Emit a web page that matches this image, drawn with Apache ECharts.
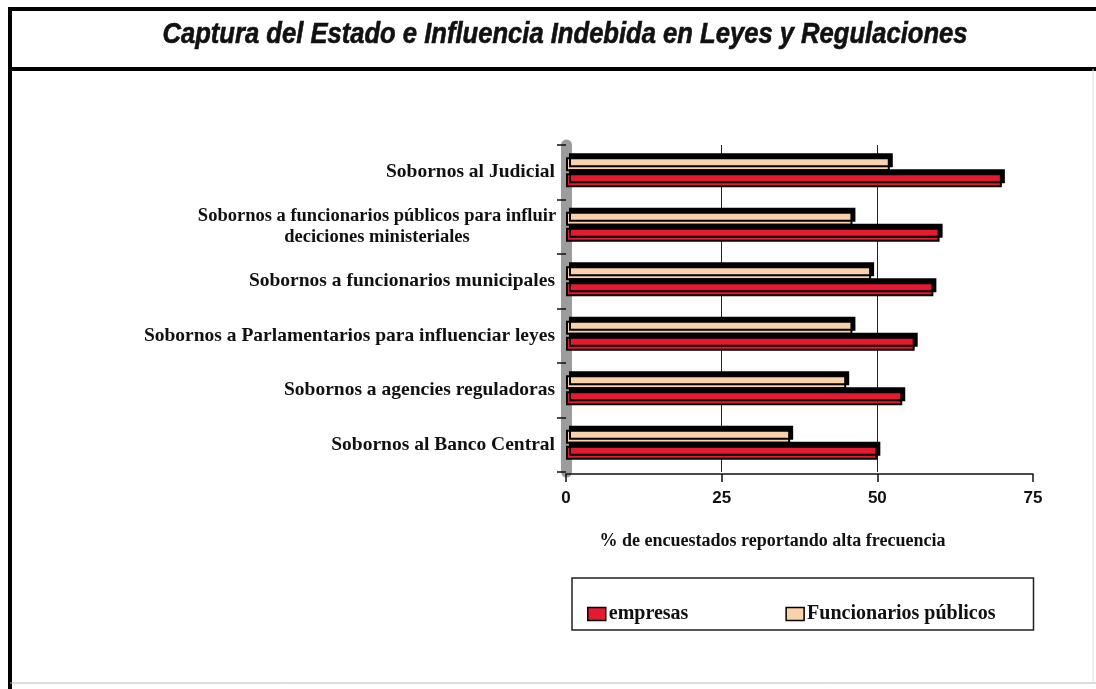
<!DOCTYPE html>
<html>
<head>
<meta charset="utf-8">
<script src="https://cdn.jsdelivr.net/npm/echarts@6/dist/echarts.min.js"></script>
<style>
    html, body { margin: 0; padding: 0; background: #fff; }
    #chart { width: 1096px; height: 689px; }
</style>
</head>
<body>
<div id="chart"></div>
<script>
    var categories = [
        'Sobornos al Judicial',
        'Sobornos a funcionarios públicos para influir\ndeciciones ministeriales',
        'Sobornos a funcionarios municipales',
        'Sobornos a Parlamentarios para influenciar leyes',
        'Sobornos a agencies reguladoras',
        'Sobornos al Banco Central'
    ];
    var empresas = [70, 60, 59, 56, 54, 50];
    var funcionarios = [52, 46, 49, 46, 45, 36];
    var xTicks = [0, 25, 50, 75];
    var titleText = 'Captura del Estado e Influencia Indebida en Leyes y Regulaciones';

    var RED = '#e51a30', TAN = '#f9d1aa';
    var serif = 'Liberation Serif';

    // condensed title: squeeze a normal sans to the width it has in the scan
    var titleFont = 'italic bold 29px "Liberation Sans"';
    var ctx = document.createElement('canvas').getContext('2d');
    ctx.font = titleFont;
    var titleScale = 805 / ctx.measureText(titleText).width;

    var barStyle = function (color) {
        return {
            color: color,
            borderColor: '#000',
            borderWidth: 2,
            shadowColor: '#000',
            shadowBlur: 0,
            shadowOffsetX: 3,
            shadowOffsetY: -4
        };
    };

    var option = {
        backgroundColor: '#fff',
        animation: false,
        graphic: [
            { type: 'line', shape: { x1: 8, y1: 9, x2: 1096, y2: 9 }, style: { stroke: '#000', lineWidth: 4 } },
            { type: 'line', shape: { x1: 8, y1: 69, x2: 1096, y2: 69 }, style: { stroke: '#000', lineWidth: 4 } },
            { type: 'line', shape: { x1: 10, y1: 7, x2: 10, y2: 689 }, style: { stroke: '#000', lineWidth: 4 } },
            { type: 'line', shape: { x1: 10, y1: 683, x2: 1096, y2: 683 }, style: { stroke: '#bbb', lineWidth: 1 } },
            { type: 'line', shape: { x1: 1093, y1: 69, x2: 1093, y2: 683 }, style: { stroke: '#ddd', lineWidth: 1 } },
            {
                type: 'text',
                x: 565,
                y: 35,
                scaleX: titleScale,
                style: {
                    text: titleText,
                    font: titleFont,
                    fill: '#111',
                    stroke: '#111',
                    lineWidth: 0.6,
                    align: 'center',
                    verticalAlign: 'middle'
                }
            }
        ],
        legend: {
            data: ['empresas', 'Funcionarios públicos'],
            left: 572,
            top: 578,
            orient: 'horizontal',
            padding: [26, 38, 6, 15],
            itemGap: 97,
            itemWidth: 18,
            itemHeight: 13,
            icon: 'rect',
            borderColor: '#222',
            borderWidth: 1.5,
            itemStyle: { borderColor: '#000', borderWidth: 1.5, shadowBlur: 0, shadowOffsetX: 0, shadowOffsetY: 0 },
            textStyle: { fontFamily: serif, fontWeight: 'bold', fontSize: 20, color: '#111', padding: [0, 0, 0, -2] }
        },
        grid: {
            left: 566,
            right: 63,
            top: 145,
            bottom: 217
        },
        xAxis: {
            type: 'value',
            min: xTicks[0],
            max: xTicks[xTicks.length - 1],
            interval: 25,
            offset: 2,
            name: '% de encuestados reportando alta frecuencia',
            nameLocation: 'middle',
            nameGap: 58,
            nameTextStyle: { fontFamily: serif, fontWeight: 'bold', fontSize: 18, color: '#111', padding: [0, 54, 0, 0] },
            axisLine: { show: true, lineStyle: { color: '#111', width: 1.5 } },
            axisTick: { show: true, length: 8, lineStyle: { color: '#111', width: 1.5 } },
            axisLabel: { margin: 16, fontFamily: 'Liberation Sans', fontWeight: 'bold', fontSize: 17, color: '#111' },
            splitLine: { show: true, showMinLine: false, showMaxLine: false, lineStyle: { color: '#222', width: 1 } }
        },
        yAxis: {
            type: 'category',
            inverse: true,
            data: categories,
            axisLine: { show: true, lineStyle: { color: '#9c9c9c', width: 11 } },
            axisTick: { show: true, length: 9, lineStyle: { color: '#111', width: 1.5 } },
            axisLabel: {
                margin: 11,
                fontFamily: serif,
                fontWeight: 'bold',
                fontSize: 19.5,
                color: '#111',
                formatter: function (v) {
                    if (v.indexOf('\n') < 0) {
                        return v;
                    }
                    return v.split('\n').map(function (s) { return '{c|' + s + '}'; }).join('\n');
                },
                rich: {
                    c: { width: 356, align: 'center', fontFamily: serif, fontWeight: 'bold', fontSize: 18.5, color: '#111', lineHeight: 21 }
                }
            }
        },
        series: [
            {
                name: 'Funcionarios públicos',
                type: 'bar',
                data: funcionarios,
                barWidth: 14,
                barGap: '14%',
                itemStyle: barStyle(TAN)
            },
            {
                name: 'empresas',
                type: 'bar',
                data: empresas,
                barWidth: 14,
                barGap: '14%',
                itemStyle: barStyle(RED)
            }
        ]
    };

    var chart = echarts.init(document.getElementById('chart'));
    chart.setOption(option);
</script>
</body>
</html>
